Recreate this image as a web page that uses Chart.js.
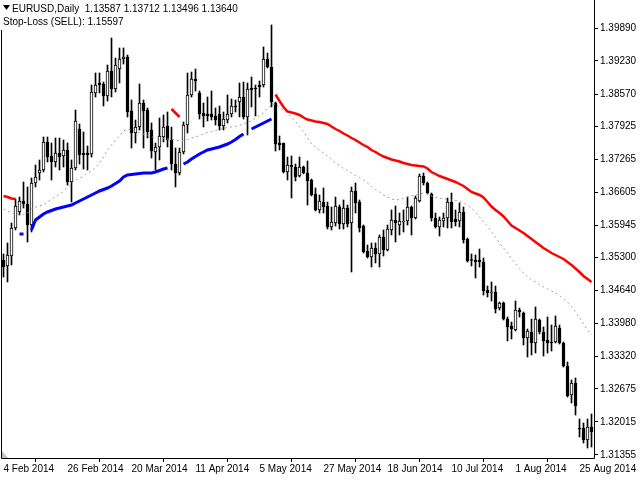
<!DOCTYPE html>
<html>
<head>
<meta charset="utf-8">
<title>EURUSD Daily</title>
<script src="https://cdn.jsdelivr.net/npm/chart.js@4.4.1/dist/chart.umd.min.js"></script>
<style>
  html, body { margin: 0; padding: 0; background: #fff; }
  #wrap { width: 640px; height: 480px; }
</style>
</head>
<body>
<div id="wrap"><canvas id="chart" width="640" height="480"></canvas></div>
<script>
// EURUSD daily candles, 4 Feb 2014 .. 28 Aug 2014 (one bar per weekday)

const opens = [
  1.3525, 1.3513, 1.3533, 1.3589, 1.3621, 1.3643, 1.3637, 1.3595, 1.3679, 1.3699,
  1.3705, 1.3761, 1.3733, 1.3721, 1.3739, 1.3733, 1.3745, 1.3681, 1.3709, 1.3787,
  1.3739, 1.3739, 1.3737, 1.3859, 1.3879, 1.3877, 1.3853, 1.3903, 1.3867, 1.3907,
  1.3927, 1.3931, 1.3823, 1.3779, 1.3791, 1.3839, 1.3825, 1.3785, 1.3741, 1.3751,
  1.3771, 1.3793, 1.3765, 1.3717, 1.3699, 1.3741, 1.3795, 1.3855, 1.3887, 1.3859,
  1.3819, 1.3817, 1.3817, 1.3813, 1.3817, 1.3793, 1.3805, 1.3817, 1.3833, 1.3841,
  1.3851, 1.3811, 1.3869, 1.3869, 1.3875, 1.3875, 1.3927, 1.3911, 1.3839, 1.3759,
  1.3759, 1.3701, 1.3715, 1.3711, 1.3693, 1.3711, 1.3699, 1.3685, 1.3657, 1.3625,
  1.3641, 1.3633, 1.3591, 1.3599, 1.3631, 1.3597, 1.3629, 1.3599, 1.3663, 1.3641,
  1.3593, 1.3543, 1.3531, 1.3549, 1.3537, 1.3571, 1.3545, 1.3585, 1.3605, 1.3595,
  1.3601, 1.3603, 1.3631, 1.3609, 1.3643, 1.3693, 1.3679, 1.3657, 1.3609, 1.3591,
  1.3603, 1.3609, 1.3641, 1.3607, 1.3603, 1.3621, 1.3567, 1.3525, 1.3525, 1.3525,
  1.3521, 1.3465, 1.3459, 1.3461, 1.3429, 1.3439, 1.3407, 1.3393, 1.3385, 1.3425,
  1.3419, 1.3369, 1.3381, 1.3359, 1.3405, 1.3381, 1.3365, 1.3361, 1.3361, 1.3389,
  1.3359, 1.3313, 1.3255, 1.3279, 1.3189, 1.3189, 1.3165, 1.3191
];

const highs = [
  1.3537, 1.3559, 1.3599, 1.3647, 1.3651, 1.3681, 1.3671, 1.3689, 1.3715, 1.3725,
  1.3771, 1.3771, 1.3759, 1.3769, 1.3769, 1.3765, 1.3759, 1.3725, 1.3825, 1.3797,
  1.3781, 1.3753, 1.3875, 1.3899, 1.3899, 1.3881, 1.3915, 1.3969, 1.3929, 1.3949,
  1.3949, 1.3935, 1.3845, 1.3805, 1.3877, 1.3845, 1.3829, 1.3799, 1.3759, 1.3809,
  1.3815, 1.3821, 1.3791, 1.3749, 1.3749, 1.3801, 1.3899, 1.3901, 1.3907, 1.3863,
  1.3839, 1.3851, 1.3863, 1.3829, 1.3833, 1.3821, 1.3855, 1.3847, 1.3845, 1.3879,
  1.3881, 1.3879, 1.3891, 1.3875, 1.3883, 1.3951, 1.3939, 1.3995, 1.3841, 1.3773,
  1.3759, 1.3731, 1.3733, 1.3717, 1.3731, 1.3713, 1.3723, 1.3687, 1.3669, 1.3655,
  1.3669, 1.3641, 1.3631, 1.3651, 1.3635, 1.3645, 1.3635, 1.3671, 1.3679, 1.3645,
  1.3595, 1.3555, 1.3559, 1.3559, 1.3575, 1.3585, 1.3595, 1.3625, 1.3633, 1.3619,
  1.3625, 1.3651, 1.3633, 1.3653, 1.3697, 1.3699, 1.3681, 1.3659, 1.3619, 1.3611,
  1.3619, 1.3649, 1.3659, 1.3625, 1.3639, 1.3631, 1.3569, 1.3537, 1.3535, 1.3547,
  1.3529, 1.3473, 1.3481, 1.3473, 1.3441, 1.3441, 1.3411, 1.3401, 1.3443, 1.3429,
  1.3421, 1.3387, 1.3407, 1.3431, 1.3407, 1.3391, 1.3411, 1.3395, 1.3413, 1.3395,
  1.3361, 1.3321, 1.3285, 1.3289, 1.3207, 1.3199, 1.3207, 1.3217
];

const lows = [
  1.3491, 1.3481, 1.3515, 1.3585, 1.3615, 1.3629, 1.3561, 1.3581, 1.3671, 1.3685,
  1.3701, 1.3721, 1.3685, 1.3711, 1.3705, 1.3711, 1.3675, 1.3641, 1.3705, 1.3717,
  1.3707, 1.3705, 1.3731, 1.3851, 1.3859, 1.3833, 1.3843, 1.3851, 1.3861, 1.3879,
  1.3917, 1.3811, 1.3749, 1.3759, 1.3785, 1.3749, 1.3769, 1.3729, 1.3705, 1.3725,
  1.3761, 1.3751, 1.3705, 1.3671, 1.3695, 1.3737, 1.3779, 1.3851, 1.3863, 1.3807,
  1.3791, 1.3803, 1.3805, 1.3795, 1.3785, 1.3785, 1.3799, 1.3811, 1.3821, 1.3811,
  1.3807, 1.3775, 1.3831, 1.3813, 1.3851, 1.3871, 1.3909, 1.3831, 1.3743, 1.3745,
  1.3699, 1.3685, 1.3649, 1.3683, 1.3691, 1.3697, 1.3635, 1.3653, 1.3623, 1.3619,
  1.3619, 1.3587, 1.3585, 1.3593, 1.3587, 1.3587, 1.3591, 1.3501, 1.3619, 1.3581,
  1.3539, 1.3529, 1.3511, 1.3519, 1.3511, 1.3533, 1.3543, 1.3575, 1.3561, 1.3575,
  1.3581, 1.3595, 1.3575, 1.3607, 1.3641, 1.3675, 1.3657, 1.3603, 1.3589, 1.3573,
  1.3591, 1.3589, 1.3589, 1.3593, 1.3591, 1.3559, 1.3521, 1.3513, 1.3489, 1.3511,
  1.3455, 1.3451, 1.3443, 1.3419, 1.3425, 1.3405, 1.3363, 1.3367, 1.3383, 1.3411,
  1.3355, 1.3331, 1.3335, 1.3339, 1.3377, 1.3333, 1.3339, 1.3343, 1.3359, 1.3357,
  1.3311, 1.3251, 1.3239, 1.3215, 1.3171, 1.3159, 1.3149, 1.3151
];

const closes = [
  1.3511, 1.3535, 1.3589, 1.3633, 1.3643, 1.3637, 1.3595, 1.3679, 1.3691, 1.3705,
  1.3761, 1.3731, 1.3721, 1.3739, 1.3731, 1.3745, 1.3681, 1.3709, 1.3803, 1.3735,
  1.3735, 1.3735, 1.3861, 1.3875, 1.3875, 1.3853, 1.3903, 1.3867, 1.3915, 1.3927,
  1.3931, 1.3821, 1.3779, 1.3791, 1.3839, 1.3823, 1.3781, 1.3743, 1.3751, 1.3773,
  1.3791, 1.3765, 1.3717, 1.3699, 1.3741, 1.3795, 1.3855, 1.3887, 1.3883, 1.3817,
  1.3813, 1.3813, 1.3811, 1.3805, 1.3793, 1.3807, 1.3817, 1.3833, 1.3831, 1.3851,
  1.3811, 1.3867, 1.3865, 1.3867, 1.3871, 1.3927, 1.3911, 1.3841, 1.3757, 1.3755,
  1.3701, 1.3715, 1.3711, 1.3691, 1.3711, 1.3699, 1.3683, 1.3655, 1.3625, 1.3643,
  1.3631, 1.3591, 1.3601, 1.3633, 1.3597, 1.3629, 1.3597, 1.3663, 1.3639, 1.3589,
  1.3541, 1.3531, 1.3549, 1.3537, 1.3571, 1.3545, 1.3587, 1.3605, 1.3599, 1.3603,
  1.3603, 1.3631, 1.3609, 1.3649, 1.3693, 1.3679, 1.3659, 1.3609, 1.3591, 1.3605,
  1.3609, 1.3641, 1.3601, 1.3601, 1.3621, 1.3565, 1.3523, 1.3524, 1.3521, 1.3521,
  1.3463, 1.3459, 1.3461, 1.3427, 1.3439, 1.3407, 1.3391, 1.3387, 1.3425, 1.3421,
  1.3369, 1.3383, 1.3359, 1.3407, 1.3381, 1.3363, 1.3359, 1.3359, 1.3393, 1.3359,
  1.3313, 1.3253, 1.3279, 1.3233, 1.3187, 1.3165, 1.3191, 1.3181
];

// indicator lines, as [first bar index, values]; bars outside a segment are empty
const sellStop = [
  [0, [1.3653, 1.3651, 1.3648, 1.3647]],
  [42, [1.3827, 1.3819, 1.3811]],
  [68, [
    1.3856, 1.3843, 1.3831, 1.3822, 1.3820, 1.3818, 1.3815, 1.3810, 1.3806, 1.3804,
    1.3802, 1.3801, 1.3799, 1.3797, 1.3792, 1.3787, 1.3783, 1.3778, 1.3774, 1.3769,
    1.3765, 1.3760, 1.3755, 1.3751, 1.3745, 1.3741, 1.3736, 1.3732, 1.3729, 1.3726,
    1.3724, 1.3722, 1.3719, 1.3717, 1.3715, 1.3714, 1.3713, 1.3712, 1.3708, 1.3701,
    1.3697, 1.3693, 1.3690, 1.3687, 1.3684, 1.3681, 1.3677, 1.3673, 1.3667, 1.3661,
    1.3658, 1.3655, 1.3650, 1.3641, 1.3632, 1.3625, 1.3619, 1.3612, 1.3603, 1.3594,
    1.3589, 1.3584, 1.3579, 1.3573, 1.3567, 1.3561, 1.3555, 1.3549, 1.3544, 1.3539,
    1.3535, 1.3531, 1.3527, 1.3521, 1.3515, 1.3508, 1.3501, 1.3493, 1.3487, 1.3481
  ]]
];

const buyStop = [
  [4, [1.3577, 1.3577]],
  [7, [
    1.3585, 1.3605, 1.3611, 1.3617, 1.3621, 1.3624, 1.3627, 1.3629, 1.3631, 1.3633,
    1.3635, 1.3639, 1.3643, 1.3647, 1.3651, 1.3655, 1.3659, 1.3663, 1.3666, 1.3669,
    1.3673, 1.3678, 1.3683, 1.3691, 1.3695, 1.3696, 1.3697, 1.3698, 1.3699, 1.3699,
    1.3699, 1.3701, 1.3704, 1.3707, 1.3709
  ]],
  [45, [
    1.3717, 1.3721, 1.3727, 1.3732, 1.3737, 1.3741, 1.3745, 1.3747, 1.3749, 1.3751,
    1.3754, 1.3757, 1.3761, 1.3766, 1.3772, 1.3777
  ]],
  [62, [1.3787, 1.3791, 1.3795, 1.3799, 1.3803, 1.3807]]
];

const midLine = [
  1.3627, 1.3623, 1.3619, 1.3617, 1.3616, 1.3616, 1.3619, 1.3627, 1.3631, 1.3633,
  1.3635, 1.3641, 1.3647, 1.3652, 1.3657, 1.3662, 1.3671, 1.3679, 1.3684, 1.3689,
  1.3693, 1.3699, 1.3703, 1.3710, 1.3719, 1.3731, 1.3745, 1.3755, 1.3765, 1.3773,
  1.3783, 1.3787, 1.3785, 1.3782, 1.3780, 1.3777, 1.3774, 1.3771, 1.3770, 1.3769,
  1.3768, 1.3767, 1.3767, 1.3765, 1.3763, 1.3764, 1.3766, 1.3769, 1.3771, 1.3774,
  1.3777, 1.3780, 1.3782, 1.3784, 1.3786, 1.3788, 1.3790, 1.3791, 1.3792, 1.3794,
  1.3797, 1.3800, 1.3804, 1.3809, 1.3814, 1.3819, 1.3829, 1.3836, 1.3837, 1.3830,
  1.3825, 1.3819, 1.3811, 1.3802, 1.3791, 1.3781, 1.3769, 1.3757, 1.3751, 1.3745,
  1.3739, 1.3733, 1.3726, 1.3719, 1.3714, 1.3708, 1.3704, 1.3699, 1.3694, 1.3690,
  1.3685, 1.3679, 1.3672, 1.3666, 1.3661, 1.3655, 1.3651, 1.3647, 1.3645, 1.3646,
  1.3648, 1.3651, 1.3653, 1.3655, 1.3657, 1.3659, 1.3657, 1.3653, 1.3650, 1.3649,
  1.3647, 1.3646, 1.3645, 1.3644, 1.3642, 1.3639, 1.3635, 1.3628, 1.3621, 1.3611,
  1.3601, 1.3593, 1.3581, 1.3571, 1.3559, 1.3549, 1.3539, 1.3528, 1.3518, 1.3508,
  1.3499, 1.3491, 1.3485, 1.3481, 1.3476, 1.3471, 1.3467, 1.3463, 1.3459, 1.3454,
  1.3447, 1.3441, 1.3432, 1.3421, 1.3409, 1.3397, 1.3385, 1.3375
];

// axis labels
const priceTicks = [1.39890, 1.39230, 1.38570, 1.37925, 1.37265, 1.36605, 1.35945,
                    1.35300, 1.34640, 1.33980, 1.33320, 1.32675, 1.32015, 1.31355];
const dateLabels = ['4 Feb 2014', '26 Feb 2014', '20 Mar 2014', '11 Apr 2014', '5 May 2014',
                    '27 May 2014', '18 Jun 2014', '10 Jul 2014', '1 Aug 2014', '25 Aug 2014'];
const DATE_STEP = 16;   // bars between date labels

const headerLine = 'EURUSD,Daily  1.13587 1.13712 1.13496 1.13640';
const stopLine = 'Stop-Loss (SELL): 1.15597';

// ── helpers ────────────────────────────────────────────────────────────────
const FONT = '"Liberation Sans", Arial, sans-serif';
const bars = opens.map((_, i) => i);

function segmentsToPoints(segs) {
  const vals = bars.map(() => null);
  segs.forEach(([start, list]) => list.forEach((v, k) => { vals[start + k] = v; }));
  return bars.map(i => ({ x: i, y: vals[i] }));
}

// frame, scroll marker and the header text in the top-left corner
const mtFrame = {
  id: 'mtFrame',
  afterDraw(chart) {
    const { ctx, chartArea: a } = chart;
    ctx.save();
    ctx.strokeStyle = '#000';
    ctx.lineWidth = 1;
    ctx.beginPath();
    ctx.moveTo(1.5, 0);
    ctx.lineTo(1.5, a.bottom + 0.5);
    ctx.lineTo(a.right + 0.5, a.bottom + 0.5);
    ctx.lineTo(a.right + 0.5, 0);
    ctx.stroke();

    ctx.fillStyle = '#c0c0c0';
    ctx.beginPath();
    ctx.moveTo(2, a.bottom - 7);
    ctx.lineTo(2, a.bottom);
    ctx.lineTo(8, a.bottom);
    ctx.closePath();
    ctx.fill();

    ctx.font = '10px ' + FONT;
    const w1 = ctx.measureText(headerLine).width;
    const w2 = ctx.measureText(stopLine).width;
    ctx.fillStyle = '#fff';
    ctx.fillRect(0, 0, 12 + w1 + 3, 15);
    ctx.fillRect(0, 15, 3 + w2 + 3, 15);
    ctx.fillStyle = '#000';
    ctx.beginPath();
    ctx.moveTo(3, 5);
    ctx.lineTo(10, 5);
    ctx.lineTo(6.5, 10);
    ctx.closePath();
    ctx.fill();
    ctx.textBaseline = 'alphabetic';
    ctx.fillText(headerLine, 12, 12);
    ctx.fillText(stopLine, 3, 25);
    ctx.restore();
  }
};

// ── chart ──────────────────────────────────────────────────────────────────
function buildChart() {
  const ctx = document.getElementById('chart');
  Chart.defaults.font.family = FONT;
  Chart.defaults.font.size = 10;
  Chart.defaults.color = '#000';

  new Chart(ctx, {
    type: 'bar',
    data: {
      datasets: [
        {
          label: 'Wicks',
          data: bars.map(i => ({ x: i, y: [lows[i], highs[i]] })),
          backgroundColor: '#000',
          borderWidth: 0,
          barThickness: 1,
          grouped: false,
          order: 3
        },
        {
          label: 'Bodies',
          data: bars.map(i => ({ x: i, y: [opens[i], closes[i]] })),
          backgroundColor: c => closes[c.dataIndex] >= opens[c.dataIndex] ? '#fff' : '#000',
          borderColor: '#000',
          borderWidth: 1,
          borderSkipped: false,
          minBarLength: 1,
          barThickness: 3,
          grouped: false,
          order: 2
        },
        {
          type: 'line',
          label: 'Middle',
          data: bars.map(i => ({ x: i, y: midLine[i] })),
          borderColor: '#a0a0a0',
          borderWidth: 1,
          borderDash: [2, 3],
          pointRadius: 0,
          tension: 0,
          order: 1
        },
        {
          type: 'line',
          label: 'Stop-Loss (SELL)',
          data: segmentsToPoints(sellStop),
          borderColor: '#ff0000',
          borderWidth: 2.5,
          pointRadius: 0,
          tension: 0,
          spanGaps: false,
          order: 0
        },
        {
          type: 'line',
          label: 'Stop-Loss (BUY)',
          data: segmentsToPoints(buyStop),
          borderColor: '#0000ff',
          borderWidth: 3,
          pointRadius: 0,
          tension: 0,
          spanGaps: false,
          order: 0
        }
      ]
    },
    options: {
      responsive: false,
      animation: false,
      devicePixelRatio: 1,
      layout: { padding: { left: 1, top: 0, right: 0, bottom: 0 } },
      plugins: { legend: { display: false }, tooltip: { enabled: false } },
      scales: {
        x: {
          type: 'linear',
          min: -0.625,
          max: 147.625,
          offset: false,
          bounds: 'data',
          border: { display: false },
          grid: { drawOnChartArea: false, drawTicks: true, tickLength: 4, color: '#000' },
          ticks: {
            align: 'start',
            maxRotation: 0,
            autoSkip: false,
            padding: 1,
            callback: v => dateLabels[Math.round(v / DATE_STEP)] || ''
          },
          afterBuildTicks: s => { s.ticks = dateLabels.map((_, k) => ({ value: k * DATE_STEP })); },
          afterFit: s => { s.height = 22; s.paddingLeft = 0; s.paddingRight = 0; }
        },
        y: {
          position: 'right',
          min: 1.3129,
          max: 1.4045,
          bounds: 'data',
          border: { display: false },
          grid: { drawOnChartArea: false, drawTicks: true, tickLength: 4, color: '#000' },
          ticks: { padding: 2, callback: v => v.toFixed(5) },
          afterBuildTicks: s => { s.ticks = priceTicks.map(v => ({ value: v })); },
          afterFit: s => { s.width = 46; s.paddingTop = 0; s.paddingBottom = 0; }
        }
      }
    },
    plugins: [mtFrame]
  });
}

document.addEventListener('DOMContentLoaded', buildChart);
</script>
</body>
</html>
